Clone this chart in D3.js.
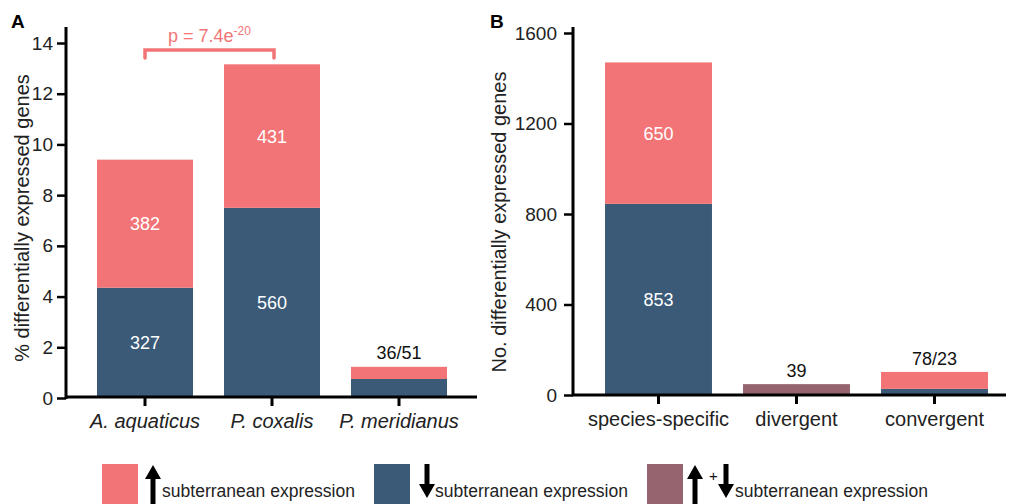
<!DOCTYPE html>
<html><head><meta charset="utf-8">
<script src="https://cdn.jsdelivr.net/npm/d3@7"></script>
<style>
body{margin:0;background:#fff;}
text{font-family:"Liberation Sans",Arial,Helvetica,sans-serif;}
</style></head>
<body><svg id="chart" width="1011" height="504"></svg>
<script>
// ---- Panel A data ----
const speciesA = ["A. aquaticus", "P. coxalis", "P. meridianus"];
const downPctA = [4.35, 7.5, 0.75];     // % down-regulated (blue)
const upPctA   = [5.05, 5.66, 0.48];    // % up-regulated (pink)
const upCountA   = [382, 431, 36];
const downCountA = [327, 560, 51];
const ticksA = [0, 2, 4, 6, 8, 10, 12, 14];

// ---- Panel B data ----
const catsB = ["species-specific", "divergent", "convergent"];
const downB  = [845, 0, 27];
const upB    = [625, 0, 75];
const bothB  = [0, 48, 0];
const labelsB = ["853", "39", "78/23"];
const innerLabelsB = [{up: "650", down: "853"}, null, null];
const ticksB = [0, 400, 800, 1200, 1600];

const legendLabels = ["subterranean expression", "subterranean expression", "subterranean expression"];

const PINK = "#F27476", BLUE = "#3A5A78", MAUVE = "#95646F";
const FONT = "Liberation Sans, Arial, sans-serif";

const svg = d3.select("#chart");

// ===== Panel A =====
const xA = d3.scaleBand().domain(speciesA).range([81.5, 462.5]).paddingInner(0.244).paddingOuter(0.122);
const yA = d3.scaleLinear().domain([0, 14]).range([398, 43]);
const gA = svg.append("g");

speciesA.forEach((s, i) => {
  gA.append("rect").attr("x", xA(s)).attr("width", xA.bandwidth())
    .attr("y", yA(downPctA[i])).attr("height", yA(0) - yA(downPctA[i])).attr("fill", BLUE);
  gA.append("rect").attr("x", xA(s)).attr("width", xA.bandwidth())
    .attr("y", yA(downPctA[i] + upPctA[i])).attr("height", yA(downPctA[i]) - yA(downPctA[i] + upPctA[i])).attr("fill", PINK);
});
speciesA.forEach((s, i) => {
  const cx = xA(s) + xA.bandwidth() / 2;
  if (i < 2) {
    gA.append("text").attr("x", cx).attr("y", yA(downPctA[i] + upPctA[i] / 2)).attr("dy", "0.36em")
      .attr("text-anchor", "middle").attr("fill", "#fff").attr("font-size", 18).text(upCountA[i]);
    gA.append("text").attr("x", cx).attr("y", yA(downPctA[i] / 2)).attr("dy", "0.36em")
      .attr("text-anchor", "middle").attr("fill", "#fff").attr("font-size", 18).text(downCountA[i]);
  } else {
    gA.append("text").attr("x", cx).attr("y", yA(downPctA[i] + upPctA[i]) - 8)
      .attr("text-anchor", "middle").attr("fill", "#111").attr("font-size", 18).text(upCountA[i] + "/" + downCountA[i]);
  }
});

const axA = gA.append("g").attr("transform", "translate(66,0)")
  .call(d3.axisLeft(yA).tickValues(ticksA).tickSize(9).tickPadding(4).tickSizeOuter(0));
axA.select(".domain").remove();
axA.selectAll(".tick line").attr("stroke", "#000").attr("stroke-width", 2.5);
axA.selectAll(".tick text").attr("font-size", 19).attr("fill", "#222").attr("font-family", FONT);
gA.append("line").attr("x1", 66).attr("x2", 66).attr("y1", 27).attr("y2", 399).attr("stroke", "#000").attr("stroke-width", 3);
const axAx = gA.append("g").attr("transform", "translate(0,397)")
  .call(d3.axisBottom(xA).tickSize(9).tickPadding(8).tickSizeOuter(0));
axAx.select(".domain").remove();
axAx.selectAll(".tick line").attr("stroke", "#000").attr("stroke-width", 3);
axAx.selectAll(".tick text").attr("font-size", 20).attr("font-style", "italic").attr("fill", "#222").attr("font-family", FONT);
gA.append("line").attr("x1", 65).attr("x2", 477).attr("y1", 397).attr("y2", 397).attr("stroke", "#000").attr("stroke-width", 3);

gA.append("text").attr("transform", "translate(29,218) rotate(-90)").attr("text-anchor", "middle")
  .attr("font-size", 20).attr("fill", "#222").text("% differentially expressed genes");
svg.append("text").attr("x", 11).attr("y", 28).attr("font-size", 19).attr("font-weight", "bold").text("A");

const bx1 = xA(speciesA[0]) + xA.bandwidth() / 2, bx2 = xA(speciesA[1]) + xA.bandwidth() / 2 + 2;
gA.append("path").attr("d", `M${bx1},58 V50 H${bx2} V58`).attr("fill", "none").attr("stroke", PINK)
  .attr("stroke-width", 3.5).attr("stroke-linecap", "round");
const pt = gA.append("text").attr("x", (bx1 + bx2) / 2).attr("y", 42).attr("text-anchor", "middle")
  .attr("fill", PINK).attr("font-size", 18);
pt.append("tspan").text("p = 7.4e");
pt.append("tspan").attr("dy", -7).attr("font-size", 12).text("-20");

// ===== Panel B =====
const xB = d3.scaleBand().domain(catsB).range([589.5, 1003.5]).paddingInner(0.225).paddingOuter(0.1125);
const yB = d3.scaleLinear().domain([0, 1600]).range([395, 33]);
const gB = svg.append("g");

catsB.forEach((c, i) => {
  const x = xB(c), w = xB.bandwidth();
  if (downB[i] > 0) gB.append("rect").attr("x", x).attr("width", w).attr("y", yB(downB[i])).attr("height", yB(0) - yB(downB[i])).attr("fill", BLUE);
  if (upB[i] > 0) gB.append("rect").attr("x", x).attr("width", w).attr("y", yB(downB[i] + upB[i])).attr("height", yB(downB[i]) - yB(downB[i] + upB[i])).attr("fill", PINK);
  if (bothB[i] > 0) gB.append("rect").attr("x", x).attr("width", w).attr("y", yB(bothB[i])).attr("height", yB(0) - yB(bothB[i])).attr("fill", MAUVE);
  const cx = x + w / 2;
  if (innerLabelsB[i]) {
    gB.append("text").attr("x", cx).attr("y", yB(downB[i] + upB[i] / 2)).attr("dy", "0.36em")
      .attr("text-anchor", "middle").attr("fill", "#fff").attr("font-size", 18).text(innerLabelsB[i].up);
    gB.append("text").attr("x", cx).attr("y", yB(downB[i] / 2)).attr("dy", "0.36em")
      .attr("text-anchor", "middle").attr("fill", "#fff").attr("font-size", 18).text(innerLabelsB[i].down);
  } else {
    const top = yB(downB[i] + upB[i] + bothB[i]);
    gB.append("text").attr("x", cx).attr("y", top - 7).attr("text-anchor", "middle")
      .attr("fill", "#111").attr("font-size", 18).text(labelsB[i]);
  }
});

const axB = gB.append("g").attr("transform", "translate(573,0)")
  .call(d3.axisLeft(yB).tickValues(ticksB).tickFormat(d3.format("d")).tickSize(9).tickPadding(7).tickSizeOuter(0));
axB.select(".domain").remove();
axB.selectAll(".tick line").attr("stroke", "#000").attr("stroke-width", 2.5);
axB.selectAll(".tick text").attr("font-size", 19).attr("fill", "#222").attr("font-family", FONT);
gB.append("line").attr("x1", 573).attr("x2", 573).attr("y1", 27).attr("y2", 396).attr("stroke", "#000").attr("stroke-width", 3);
const axBx = gB.append("g").attr("transform", "translate(0,395)")
  .call(d3.axisBottom(xB).tickSize(9).tickPadding(8).tickSizeOuter(0));
axBx.select(".domain").remove();
axBx.selectAll(".tick line").attr("stroke", "#000").attr("stroke-width", 3);
axBx.selectAll(".tick text").attr("font-size", 20).attr("fill", "#222").attr("font-family", FONT);
gB.append("line").attr("x1", 572).attr("x2", 1006).attr("y1", 395).attr("y2", 395).attr("stroke", "#000").attr("stroke-width", 3);

gB.append("text").attr("transform", "translate(506,222) rotate(-90)").attr("text-anchor", "middle")
  .attr("font-size", 20).attr("fill", "#222").text("No. differentially expressed genes");
svg.append("text").attr("x", 490).attr("y", 28).attr("font-size", 19).attr("font-weight", "bold").text("B");

// ===== Legend =====
const lg = svg.append("g");
function upArrow(x, top, bottom) {
  lg.append("path").attr("d", `M${x},${top} L${x + 8},${top + 14} L${x + 2.5},${top + 14} L${x + 2.5},${bottom} L${x - 2.5},${bottom} L${x - 2.5},${top + 14} L${x - 8},${top + 14} Z`).attr("fill", "#000");
}
function downArrow(x, top, bottom) {
  lg.append("path").attr("d", `M${x},${bottom} L${x + 8},${bottom - 14} L${x + 2.5},${bottom - 14} L${x + 2.5},${top} L${x - 2.5},${top} L${x - 2.5},${bottom - 14} L${x - 8},${bottom - 14} Z`).attr("fill", "#000");
}
const legColors = [PINK, BLUE, MAUVE];
const legBoxX = [102, 374, 647];
const legTextX = [162, 435, 735];
legColors.forEach((c, i) => {
  lg.append("rect").attr("x", legBoxX[i]).attr("y", 464).attr("width", 36).attr("height", 42).attr("fill", c);
  lg.append("text").attr("x", legTextX[i]).attr("y", 497).attr("font-size", 17.5).attr("fill", "#222")
    .attr("textLength", 193).attr("lengthAdjust", "spacingAndGlyphs").text(legendLabels[i]);
});
upArrow(153, 465, 506);
downArrow(427, 464, 498);
upArrow(695, 465, 506);
lg.append("text").attr("x", 709).attr("y", 481).attr("font-size", 15).attr("fill", "#111").text("+");
downArrow(726, 464, 498);
</script>
</body></html>
